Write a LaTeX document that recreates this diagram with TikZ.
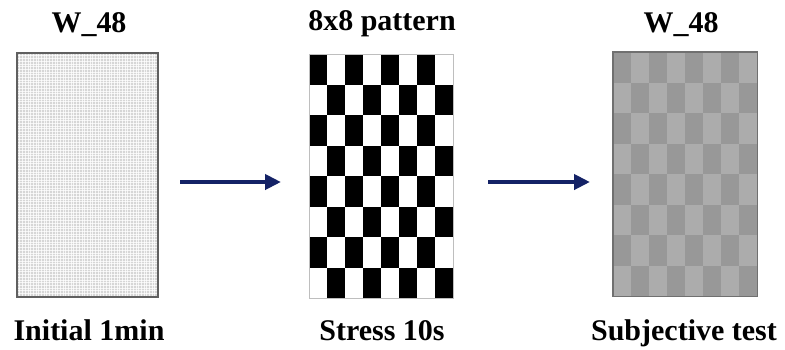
\documentclass[tikz,border=0pt]{standalone}
\usepackage{fontspec}
\setmainfont{Liberation Serif}
\usetikzlibrary{arrows.meta}
\definecolor{navy}{RGB}{20,34,102}
\definecolor{gdark}{RGB}{152,152,152}
\definecolor{glight}{RGB}{172,172,172}
\definecolor{gfill}{RGB}{214,214,214}
\tikzset{
  lbl/.style={font=\fontsize{30}{34}\selectfont\bfseries, anchor=base, inner sep=0pt},
  flow/.style={draw=navy, line width=4.5pt, -{Triangle[length=16pt,width=15pt]}},
  panel/.style={minimum width=#1, minimum height=244pt, inner sep=0pt, anchor=north west}
}
\begin{document}
\begin{tikzpicture}[x=1pt,y=-1pt]
\useasboundingbox (0,0) rectangle (785,349);
% panel 1
\node[panel=141pt, fill=gfill] (p1) at (17,53) {};
\foreach \k in {0,...,52} {
  \draw[white, opacity=0.75, line width=0.5pt] (17+\k*2.7,53) -- (17+\k*2.7,297);
}
\foreach \k in {0,...,90} {
  \draw[white, opacity=0.75, line width=0.5pt] (17,53+\k*2.7) -- (158,53+\k*2.7);
}
\draw[draw={rgb,255:red,96;green,96;blue,96}, line width=2pt] (p1.north west) rectangle (p1.south east);
% panel 2 checkerboard
\node[panel=144pt, fill=white] (p2) at (309,54) {};
\foreach \i in {0,...,7} {
  \foreach \j in {0,...,7} {
    \pgfmathtruncatemacro{\pp}{mod(\i+\j,2)}
    \ifnum\pp=0
      \fill[black] (309+\i*18,54+\j*30.5) rectangle ++(18,30.5);
    \fi
  }
}
\draw[draw={rgb,255:red,190;green,190;blue,190}, line width=1pt] (p2.north west) rectangle (p2.south east);
% panel 3
\node[panel=144pt, fill=glight] (p3) at (613,52) {};
\foreach \i in {0,...,7} {
  \foreach \j in {0,...,7} {
    \pgfmathtruncatemacro{\pp}{mod(\i+\j,2)}
    \ifnum\pp=0
      \fill[gdark] (613+\i*18,52+\j*30.5) rectangle ++(18,30.5);
    \fi
  }
}
\draw[draw={rgb,255:red,112;green,112;blue,112}, line width=1.5pt] (p3.north west) rectangle (p3.south east);
% labels
\node[lbl] (t1) at (89,32) {W\_48};
\node[lbl] (t2) at (382,30) {8x8 pattern};
\node[lbl] (t3) at (681,32) {W\_48};
\node[lbl] (b1) at (89,340) {Initial 1min};
\node[lbl] (b2) at (382,340) {Stress 10s};
\node[lbl] (b3) at (684,340) {Subjective test};
% arrows
\draw[flow, shorten <=22pt, shorten >=28pt] (p1.east |- 0,182) -- (p2.west |- 0,182);
\draw[flow, shorten <=35pt, shorten >=23pt] (p2.east |- 0,182) -- (p3.west |- 0,182);
\end{tikzpicture}
\end{document}
